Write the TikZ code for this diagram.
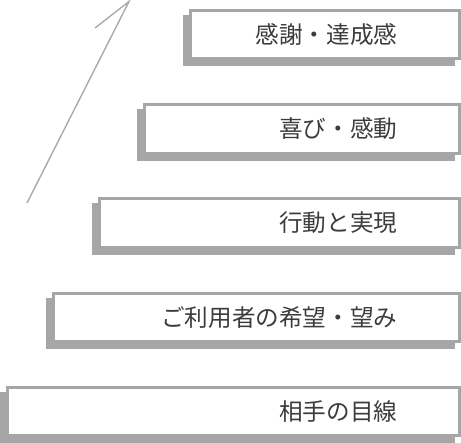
\documentclass[tikz,border=0pt]{standalone}
\usepackage{fontspec}
\newfontfamily\jpfont{Noto Sans CJK JP}
\definecolor{boxgray}{RGB}{166,166,166}
\definecolor{arrgray}{RGB}{170,170,170}
\definecolor{txtgray}{RGB}{60,60,60}
\tikzset{
  shadowbox/.style={fill=boxgray, draw=none, inner sep=0, outer sep=0, anchor=north west, minimum height=51.5pt},
  stairbox/.style={fill=white, draw=boxgray, line width=3pt, inner sep=0, outer sep=0, anchor=north west, minimum height=48.5pt},
  label/.style={font=\jpfont\fontsize{23.6}{23.6}\selectfont, text=txtgray, inner sep=0, anchor=east},
  rise/.style={draw=arrgray, line width=1.4pt, line join=miter}
}
\begin{document}
\begin{tikzpicture}[x=1pt,y=-1pt]
\useasboundingbox (0,0) rectangle (461,443);
% step 1 (top)
\node[shadowbox, minimum width=272pt] (s1) at (183,15) {};
\node[stairbox, minimum width=269pt] (b1) at (190.5,10.5) {};
\node[label] (t1) at (397.5,35) {感謝・達成感};
% step 2
\node[shadowbox, minimum width=317.75pt] (s2) at (137.25,109.25) {};
\node[stairbox, minimum width=314.75pt] (b2) at (144.75,104.75) {};
\node[label] (t2) at (397.5,129) {喜び・感動};
% step 3
\node[shadowbox, minimum width=363.5pt] (s3) at (91.5,203.5) {};
\node[stairbox, minimum width=360.5pt] (b3) at (99,199) {};
\node[label] (t3) at (397.5,223) {行動と実現};
% step 4
\node[shadowbox, minimum width=409.25pt] (s4) at (45.75,297.75) {};
\node[stairbox, minimum width=406.25pt] (b4) at (53.25,293.25) {};
\node[label] (t4) at (397.5,317.5) {ご利用者の希望・望み};
% step 5
\node[shadowbox, minimum width=455pt] (s5) at (0,392) {};
\node[stairbox, minimum width=452pt] (b5) at (7.5,387.5) {};
\node[label] (t5) at (397.5,411.5) {相手の目線};
% rising arrow
\coordinate (a0) at (27,203);
\coordinate (a1) at (129,1.5);
\coordinate (a2) at (95,28);
\draw[rise] (a0) -- (a1) -- (a2);
\end{tikzpicture}
\end{document}
